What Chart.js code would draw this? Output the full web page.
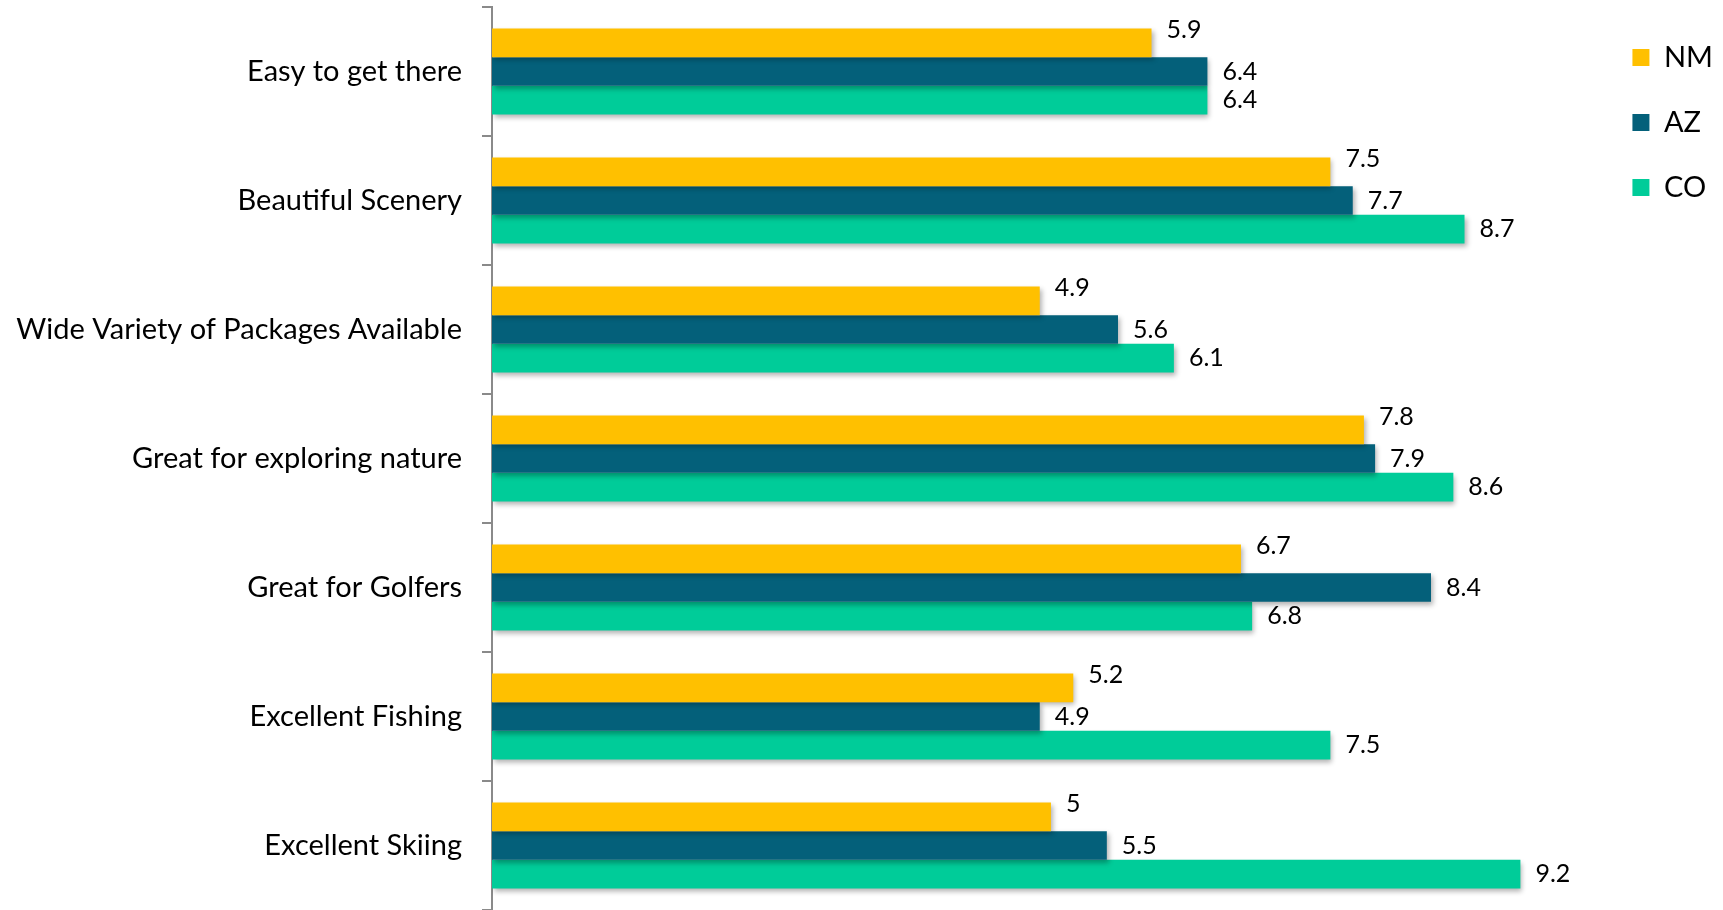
<!DOCTYPE html>
<html>
<head>
<meta charset="utf-8">
<script src="https://cdn.jsdelivr.net/npm/chart.js@4/dist/chart.umd.min.js"></script>
<style>
  html, body { margin: 0; padding: 0; background: #ffffff; }
  #wrap { width: 1723px; height: 910px; }
</style>
</head>
<body>
<div id="wrap"><canvas id="chart"></canvas></div>
<script>
// Attribute ratings by state
const categories = [
  'Easy to get there',
  'Beautiful Scenery',
  'Wide Variety of Packages Available',
  'Great for exploring nature',
  'Great for Golfers',
  'Excellent Fishing',
  'Excellent Skiing'
];
const nmValues = [5.9, 7.5, 4.9, 7.8, 6.7, 5.2, 5];
const azValues = [6.4, 7.7, 5.6, 7.9, 8.4, 4.9, 5.5];
const coValues = [6.4, 8.7, 6.1, 8.6, 6.8, 7.5, 9.2];

const FONT = 'Lato, "Open Sans", sans-serif';

// soft drop shadow under the bars
const barShadow = {
  id: 'barShadow',
  beforeDatasetDraw(chart) {
    const ctx = chart.ctx;
    ctx.save();
    ctx.shadowColor = 'rgba(0,0,0,0.30)';
    ctx.shadowBlur = 5;
    ctx.shadowOffsetX = 2;
    ctx.shadowOffsetY = 3;
  },
  afterDatasetDraw(chart) {
    chart.ctx.restore();
  }
};

// value labels to the right of each bar
const valueLabels = {
  id: 'valueLabels',
  afterDatasetsDraw(chart) {
    const ctx = chart.ctx;
    ctx.save();
    ctx.font = '25px ' + FONT;
    ctx.fillStyle = '#000000';
    ctx.textAlign = 'left';
    ctx.textBaseline = 'middle';
    chart.data.datasets.forEach((ds, i) => {
      const meta = chart.getDatasetMeta(i);
      const dy = ds.labelShift || 0;
      meta.data.forEach((bar, j) => {
        ctx.fillText(String(ds.data[j]), bar.x + 15, bar.y + dy);
      });
    });
    ctx.restore();
  }
};

new Chart(document.getElementById('chart'), {
  type: 'bar',
  data: {
    labels: categories,
    datasets: [
      { label: 'NM', data: nmValues, backgroundColor: '#FFC000', labelShift: -13 },
      { label: 'AZ', data: azValues, backgroundColor: '#04607A' },
      { label: 'CO', data: coValues, backgroundColor: '#00CC99' }
    ]
  },
  options: {
    indexAxis: 'y',
    responsive: true,
    maintainAspectRatio: false,
    animation: false,
    layout: { padding: { top: 7, bottom: 0, left: 0, right: 0 } },
    datasets: {
      bar: { categoryPercentage: 0.667, barPercentage: 1.0, borderWidth: 0 }
    },
    scales: {
      x: { display: false, min: 0, max: 9.88 },
      y: {
        afterFit(scale) {
          scale.width = 492;
          scale.paddingTop = 0;
          scale.paddingBottom = 0;
        },
        border: { display: true, color: '#8a8a8a', width: 2 },
        grid: { display: true, drawOnChartArea: false, drawTicks: true, tickLength: 10, color: '#8a8a8a', lineWidth: 2, offset: true },
        ticks: { color: '#000000', padding: 20, font: { family: FONT, size: 29 } }
      }
    },
    plugins: {
      legend: {
        position: 'right',
        align: 'start',
        labels: {
          boxWidth: 17,
          boxHeight: 17,
          padding: 36,
          color: '#000000',
          font: { family: FONT, size: 29 }
        }
      },
      tooltip: { enabled: false }
    }
  },
  plugins: [barShadow, valueLabels]
});
</script>
</body>
</html>
